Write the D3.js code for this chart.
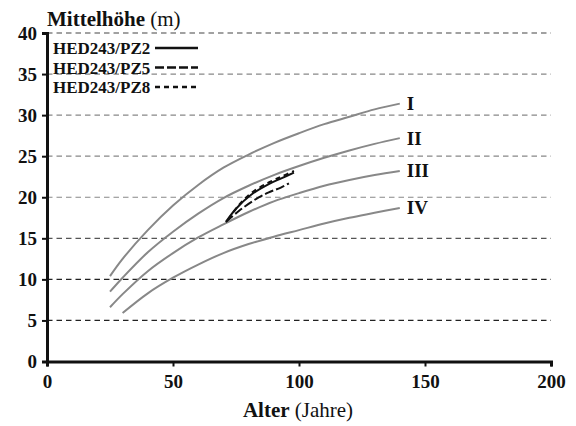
<!DOCTYPE html>
<html><head><meta charset="utf-8">
<script src="https://cdn.jsdelivr.net/npm/d3@7"></script>
<style>body{margin:0;background:#fff}svg{display:block}text{font-family:"Liberation Serif","Times New Roman",serif;fill:#111}</style>
</head><body><svg id="c" width="576" height="426"></svg>
<script>
// ---- data ----
const xTicks = [0, 50, 100, 150, 200];
const yTicks = [0, 5, 10, 15, 20, 25, 30, 35, 40];
const gridValues = [5, 10, 15, 20, 25, 30, 35, 40];
const siteLabels = ["I", "II", "III", "IV"];
const agesA = [25, 30, 40, 50, 60, 70, 80, 90, 100, 110, 120, 130, 140];
const siteI   = [10.4, 12.5, 16.0, 19.0, 21.5, 23.6, 25.2, 26.6, 27.8, 28.9, 29.8, 30.7, 31.4];
const siteII  = [8.5, 10.2, 13.3, 15.8, 18.0, 19.9, 21.4, 22.7, 23.8, 24.8, 25.7, 26.5, 27.2];
const siteIII = [6.6, 8.2, 11.0, 13.2, 15.1, 16.7, 18.2, 19.5, 20.5, 21.4, 22.1, 22.7, 23.2];
const agesIV = [30, 40, 50, 60, 70, 80, 90, 100, 110, 120, 130, 140];
const siteIV  = [5.9, 8.3, 10.2, 11.8, 13.2, 14.3, 15.2, 16.0, 16.8, 17.5, 18.1, 18.7];
const seriesNames = ["HED243/PZ2", "HED243/PZ5", "HED243/PZ8"];
const agesPZ2 = [71, 75, 81, 88, 93, 98];
const hPZ2    = [17.0, 18.6, 20.3, 21.6, 22.3, 23.0];
const agesPZ5 = [71, 76, 82, 88, 93, 96];
const hPZ5    = [17.0, 18.3, 19.6, 20.6, 21.2, 21.7];
const agesPZ8 = [72, 76, 81, 88, 93, 98];
const hPZ8    = [17.3, 19.0, 20.5, 21.8, 22.5, 23.2];

// ---- layout ----
const svg = d3.select("#c");
const x = d3.scaleLinear().domain([0, 200]).range([47, 551]);
const y = d3.scaleLinear().domain([0, 40]).range([361.5, 33]);
const F = 'Liberation Serif, Times New Roman, serif';

// gridlines
const gridColor = v => (v <= 10 ? "#222" : v === 15 ? "#555" : v === 40 ? "#444" : "#888");
svg.append("g").selectAll("line").data(gridValues).join("line")
  .attr("x1", x(0)).attr("x2", x(200))
  .attr("y1", d => y(d)).attr("y2", d => y(d))
  .attr("stroke", gridColor).attr("stroke-width", 1.2)
  .attr("stroke-dasharray", "5.5,4");

// site index curves
const sites = [
  {name: siteLabels[0], ages: agesA, h: siteI},
  {name: siteLabels[1], ages: agesA, h: siteII},
  {name: siteLabels[2], ages: agesA, h: siteIII},
  {name: siteLabels[3], ages: agesIV, h: siteIV}
];
const line = d3.line().x(d => x(d[0])).y(d => y(d[1])).curve(d3.curveCatmullRom);
sites.forEach(s => {
  const pts = s.ages.map((a, i) => [a, s.h[i]]);
  svg.append("path").attr("d", line(pts))
    .attr("fill", "none").attr("stroke", "#888").attr("stroke-width", 2);
  const last = pts[pts.length - 1];
  svg.append("text").attr("x", x(last[0]) + 7).attr("y", y(last[1]) + 6.5)
    .attr("font-size", 19).attr("font-weight", "bold").text(s.name);
});

// PZ series
const pz = [
  {name: seriesNames[0], ages: agesPZ2, h: hPZ2, dash: null},
  {name: seriesNames[1], ages: agesPZ5, h: hPZ5, dash: "9,3"},
  {name: seriesNames[2], ages: agesPZ8, h: hPZ8, dash: "5,4"}
];
pz.forEach(s => {
  const pts = s.ages.map((a, i) => [a, s.h[i]]);
  svg.append("path").attr("d", line(pts))
    .attr("fill", "none").attr("stroke", "#111").attr("stroke-width", 2)
    .attr("stroke-dasharray", s.dash);
});

// axes
const yAxis = d3.axisLeft(y).tickValues(yTicks).tickSize(5).tickPadding(5);
const gy = svg.append("g").attr("transform", `translate(${x(0)},0)`).call(yAxis);
const xAxis = d3.axisBottom(x).tickValues(xTicks).tickSize(5).tickPadding(8);
const gx = svg.append("g").attr("transform", `translate(0,${y(0)})`).call(xAxis);
[gx, gy].forEach(g => {
  g.attr("font-family", F);
  g.select(".domain").attr("stroke", "#111").attr("stroke-width", 3);
  g.selectAll(".tick line").attr("stroke", "#111").attr("stroke-width", 2);
  g.selectAll(".tick text").attr("font-size", 19)
    .attr("font-weight", "bold").attr("fill", "#111");
});

// titles
const t1 = svg.append("text").attr("x", 47).attr("y", 26).attr("font-size", 21);
t1.append("tspan").attr("font-weight", "bold").text("Mittelhöhe");
t1.append("tspan").text(" (m)");
const t2 = svg.append("text").attr("x", 298).attr("y", 417).attr("font-size", 21)
  .attr("text-anchor", "middle");
t2.append("tspan").attr("font-weight", "bold").text("Alter");
t2.append("tspan").text(" (Jahre)");

// legend
const legY = [48, 67.5, 87];
pz.forEach((s, i) => {
  svg.append("text").attr("x", 53).attr("y", legY[i] + 6)
    .attr("font-size", 17).attr("font-weight", "bold").text(s.name);
  svg.append("line").attr("x1", 155).attr("x2", 198)
    .attr("y1", legY[i]).attr("y2", legY[i])
    .attr("stroke", "#111").attr("stroke-width", 2.5)
    .attr("stroke-dasharray", s.dash);
});
</script></body></html>
